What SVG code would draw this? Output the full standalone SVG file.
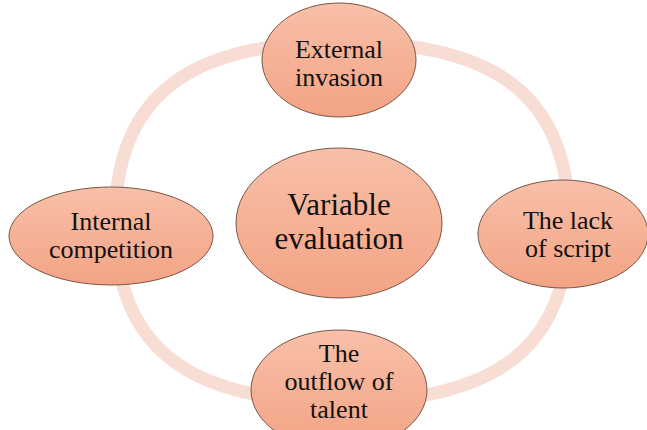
<svg xmlns="http://www.w3.org/2000/svg" width="647" height="430" viewBox="0 0 647 430">
  <defs>
    <linearGradient id="nodeFill" x1="0" y1="0" x2="0" y2="1">
      <stop offset="0" stop-color="#f8c0a8"/>
      <stop offset="1" stop-color="#f3a385"/>
    </linearGradient>
  </defs>
  <style>
    .node ellipse { fill: url(#nodeFill); stroke: #7a5548; stroke-width: 1; }
    .node text { font-family: "Liberation Serif", "Times New Roman", serif; font-size: 26px; fill: #111; text-anchor: middle; }
    #center text { font-size: 31px; }
    .ring { fill: none; stroke: #f8ddd5; stroke-width: 13; }
  </style>
  <rect width="647" height="430" fill="#ffffff"/>
  <g id="connectors">
    <path class="ring" d="M 569 222 C 569 345.8, 498.2 402, 342 402 C 185.8 402, 115 345.8, 115 222 C 115 98.2, 185.8 42, 342 42 C 498.2 42, 569 98.2, 569 222 Z"/>
  </g>
  <g id="external" class="node" font-family="Liberation Serif, serif">
    <ellipse cx="339" cy="60" rx="77" ry="57"/>
    <text x="339" y="58">External</text>
    <text x="339" y="86">invasion</text>
  </g>
  <g id="internal" class="node" font-family="Liberation Serif, serif">
    <ellipse cx="111" cy="236" rx="102" ry="49"/>
    <text x="111" y="230">Internal</text>
    <text x="111" y="258">competition</text>
  </g>
  <g id="center" class="node" font-family="Liberation Serif, serif">
    <ellipse cx="339" cy="223" rx="103" ry="75"/>
    <text x="339" y="215">Variable</text>
    <text x="339" y="249">evaluation</text>
  </g>
  <g id="lack" class="node" font-family="Liberation Serif, serif">
    <ellipse cx="563" cy="234" rx="85" ry="54"/>
    <text x="568" y="229">The lack</text>
    <text x="568" y="257">of script</text>
  </g>
  <g id="outflow" class="node" font-family="Liberation Serif, serif">
    <ellipse cx="339" cy="390" rx="88" ry="60"/>
    <text x="339" y="362">The</text>
    <text x="339" y="390">outflow of</text>
    <text x="339" y="418">talent</text>
  </g>
</svg>
